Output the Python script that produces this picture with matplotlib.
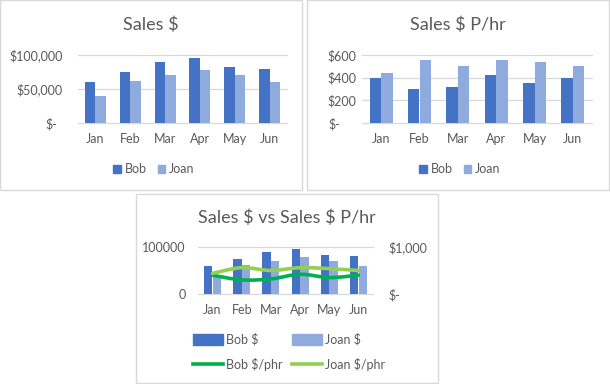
import numpy as np
import matplotlib.pyplot as plt
from matplotlib.patches import Patch, Rectangle, PathPatch
from matplotlib.lines import Line2D
from matplotlib.path import Path
import matplotlib.transforms as mtransforms

plt.rcParams['font.family'] = ['Lato', 'DejaVu Sans']
plt.rcParams['text.parse_math'] = False  # чтобы $ не превращался в формулу

months = ['Jan', 'Feb', 'Mar', 'Apr', 'May', 'Jun']
bob_sales = [60000, 75000, 90000, 95000, 82000, 80000]
joan_sales = [40000, 62000, 70000, 78000, 70000, 60000]
bob_phr = [400, 300, 320, 420, 350, 400]
joan_phr = [440, 560, 500, 560, 540, 500]

sales_ticks = [0, 50000, 100000]
sales_labels = ['$-', '$50,000', '$100,000']
phr_ticks = [0, 200, 400, 600]
phr_labels = ['$-', '$200', '$400', '$600']
combo_ticks = [0, 100000]
combo_labels = ['0', '100000']
combo2_ticks = [0, 1000]
combo2_labels = ['$-', '$1,000']

BOB = '#4472C4'
JOAN = '#8FAADC'
BOB_LINE = '#00B050'
JOAN_LINE = '#92D050'
TXT = '#595959'
GRID = '#D9D9D9'
FS = 9

W, H = 610, 384
fig = plt.figure(figsize=(W / 100, H / 100), dpi=100)


def rect(x0, y0, x1, y1):
    # пиксели картинки -> координаты фигуры
    return [x0 / W, 1 - y1 / H, (x1 - x0) / W, (y1 - y0) / H]


def panel(x0, y0, x1, y1):
    r = rect(x0, y0, x1, y1)
    fig.add_artist(Rectangle((r[0], r[1]), r[2], r[3], transform=fig.transFigure,
                             fill=False, ec=GRID, lw=1))


def style(ax, ticks, labels, top, pad, zero_shift=0):
    ax.set_xlim(-0.5, len(months) - 0.5)
    ax.set_ylim(0, top)
    for s in ax.spines.values():
        s.set_visible(False)
    ax.set_xticks(range(len(months)))
    ax.set_xticklabels(months)
    ax.set_yticks(ticks)
    ax.set_yticklabels(labels)
    ax.tick_params(length=0, labelsize=FS, labelcolor=TXT)
    ax.tick_params(axis='x', pad=7)
    ax.tick_params(axis='y', pad=pad)
    ax.yaxis.grid(True, color=GRID, lw=0.9)
    for gl in ax.yaxis.get_gridlines():
        gl.set_clip_on(False)
    ax.set_axisbelow(True)
    if zero_shift:
        lab = ax.get_yticklabels()[0]
        lab.set_transform(lab.get_transform() + mtransforms.ScaledTranslation(
            -zero_shift / 100, 0, fig.dpi_scale_trans))


def smooth_path(xs, ys):
    pts = np.column_stack([xs, ys]).astype(float)
    n = len(pts)
    verts = [pts[0]]
    codes = [Path.MOVETO]
    for i in range(n - 1):
        p0 = pts[max(i - 1, 0)]
        p1 = pts[i]
        p2 = pts[i + 1]
        p3 = pts[min(i + 2, n - 1)]
        verts += [p1 + (p2 - p0) / 6, p2 - (p3 - p1) / 6, p2]
        codes += [Path.CURVE4] * 3
    return Path(verts, codes)


x = np.arange(len(months))
bw = 0.3

square_kw = dict(frameon=False, ncol=2, fontsize=FS, labelcolor=TXT,
                 handlelength=0.6, handleheight=0.6, handletextpad=0.3,
                 columnspacing=0.9, borderaxespad=0)

# ---- Sales $
panel(0, 0, 302, 190)
ax1 = fig.add_axes(rect(78, 55, 287, 123))
ax1.bar(x - bw / 2, bob_sales, bw, color=BOB)
ax1.bar(x + bw / 2, joan_sales, bw, color=JOAN)
style(ax1, sales_ticks, sales_labels, 100000, 11, zero_shift=6)
fig.text(151 / W, 1 - 25 / H, 'Sales $', ha='center', va='center', fontsize=13, color=TXT)
fig.legend(handles=[Patch(color=BOB, label='Bob'), Patch(color=JOAN, label='Joan')],
           loc='center', bbox_to_anchor=(154 / W, 1 - 169 / H), **square_kw)

# ---- Sales $ P/hr
panel(307, 0, 609, 190)
ax2 = fig.add_axes(rect(362, 55, 592, 123))
ax2.bar(x - bw / 2, bob_phr, bw, color=BOB)
ax2.bar(x + bw / 2, joan_phr, bw, color=JOAN)
style(ax2, phr_ticks, phr_labels, 600, 4, zero_shift=16)
fig.text(458 / W, 1 - 25 / H, 'Sales $ P/hr', ha='center', va='center', fontsize=13, color=TXT)
fig.legend(handles=[Patch(color=BOB, label='Bob'), Patch(color=JOAN, label='Joan')],
           loc='center', bbox_to_anchor=(460 / W, 1 - 169 / H), **square_kw)

# ---- Sales $ vs Sales $ P/hr
panel(136, 194, 438, 383)
ax3 = fig.add_axes(rect(198, 247, 373, 294))
ax3.bar(x - bw / 2, bob_sales, bw * 0.95, color=BOB)
ax3.bar(x + bw / 2, joan_sales, bw * 0.95, color=JOAN)
style(ax3, combo_ticks, combo_labels, 100000, 9)

ax4 = ax3.twinx()
ax4.set_ylim(0, 1000)
for s in ax4.spines.values():
    s.set_visible(False)
ax4.set_yticks(combo2_ticks)
ax4.set_yticklabels(combo2_labels)
ax4.tick_params(length=0, labelsize=FS, labelcolor=TXT, pad=11)
ax4.add_patch(PathPatch(smooth_path(x, bob_phr), fill=False, ec=BOB_LINE, lw=2.6,
                        capstyle='round'))
ax4.add_patch(PathPatch(smooth_path(x, joan_phr), fill=False, ec=JOAN_LINE, lw=2.6,
                        capstyle='round'))

fig.text(287 / W, 1 - 218 / H, 'Sales $ vs Sales $ P/hr', ha='center', va='center',
         fontsize=13, color=TXT)

combo_legend = [
    Patch(color=BOB, label='Bob $'),
    Line2D([], [], color=BOB_LINE, lw=2.6, label='Bob $/phr'),
    Patch(color=JOAN, label='Joan $'),
    Line2D([], [], color=JOAN_LINE, lw=2.6, label='Joan $/phr'),
]
fig.legend(handles=combo_legend, loc='center', bbox_to_anchor=(289 / W, 1 - 352 / H),
           frameon=False, ncol=2, fontsize=FS, labelcolor=TXT, handlelength=2.4,
           handleheight=0.9, handletextpad=0.3, columnspacing=0.7, labelspacing=0.95,
           borderaxespad=0)

fig.savefig('out.png', dpi=100)
